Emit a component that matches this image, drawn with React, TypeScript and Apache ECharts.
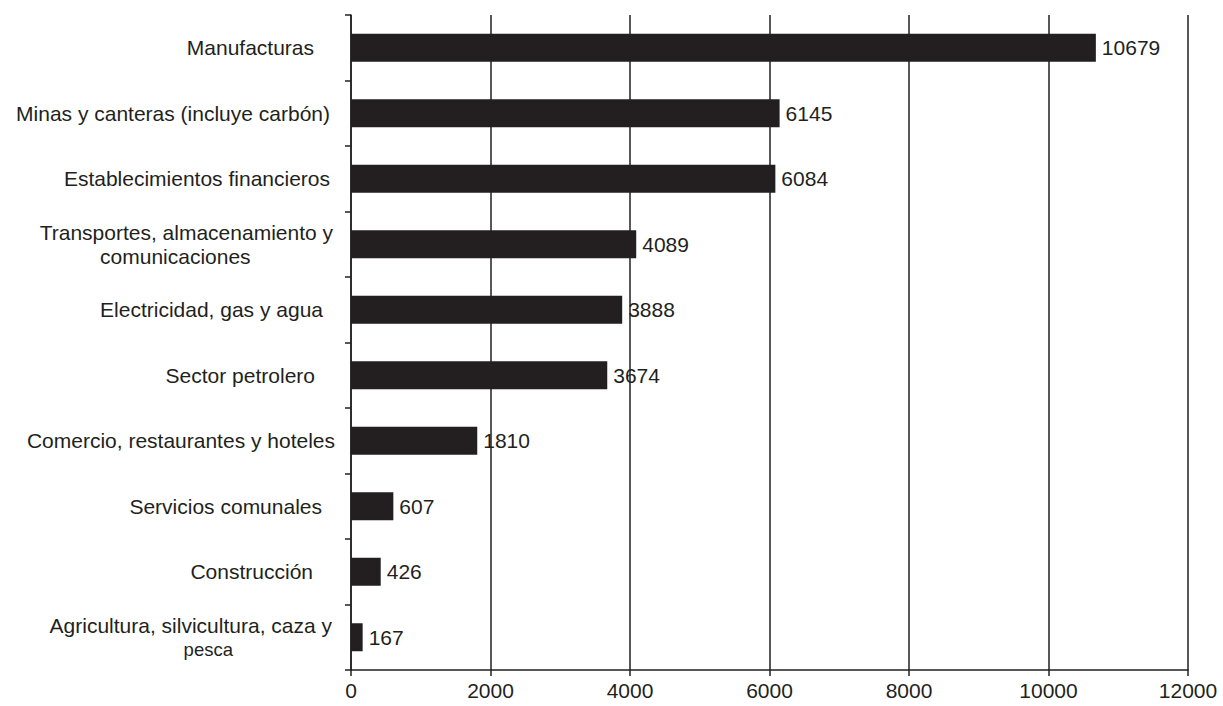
import React, { useEffect, useRef } from "react";
import * as echarts from "echarts";

const categories: string[] = [
  "Manufacturas",
  "Minas y canteras (incluye carbón)",
  "Establecimientos financieros",
  "Transportes, almacenamiento y\ncomunicaciones",
  "Electricidad, gas y agua",
  "Sector petrolero",
  "Comercio, restaurantes y hoteles",
  "Servicios comunales",
  "Construcción",
  "Agricultura, silvicultura, caza y\npesca",
];

const values: number[] = [10679, 6145, 6084, 4089, 3888, 3674, 1810, 607, 426, 167];

const xTicks = { min: 0, max: 12000, interval: 2000 };

// style: right-side gap of each category label (px), mimics trailing spaces
const labelGaps: number[] = [21, 5, 5, 2, 12, 20, 0, 13, 22, 3];

const INK = "#231f20";
const FONT = "'Liberation Sans', Arial, sans-serif";

export default function App() {
  const ref = useRef<HTMLDivElement>(null);

  useEffect(() => {
    if (!ref.current) return;
    const chart = echarts.init(ref.current, undefined, { renderer: "svg" });

    const rich: Record<string, any> = {
      l: { fontSize: 21, fontFamily: FONT, color: INK, align: "center", lineHeight: 24 },
      c: {
        fontSize: 21,
        fontFamily: FONT,
        color: INK,
        align: "center",
        lineHeight: 24,
        padding: [0, 24, 0, 0],
      },
      s: {
        fontSize: 18.5,
        fontFamily: FONT,
        color: INK,
        align: "center",
        lineHeight: 24,
        padding: [0, 0, 0, 32],
      },
    };
    labelGaps.forEach((g, i) => {
      rich["g" + i] = { width: g, align: "right", lineHeight: 24 };
    });

    const formatLabel = (name: string) => {
      const idx = categories.indexOf(name);
      const lines = name.split("\n");
      return lines
        .map((ln, li) => {
          let style = "l";
          if (li === 1) style = idx === categories.length - 1 ? "s" : "c";
          const tok = `{${style}|${ln}}`;
          return li === 0 ? `${tok}{g${idx}|}` : tok;
        })
        .join("\n");
    };

    chart.setOption({
      animation: false,
      backgroundColor: "#ffffff",
      textStyle: { fontFamily: FONT, color: INK },
      grid: { left: 351, right: 35, top: 15, bottom: 36, containLabel: false },
      xAxis: {
        type: "value",
        min: xTicks.min,
        max: xTicks.max,
        interval: xTicks.interval,
        axisLine: { show: true, lineStyle: { color: INK, width: 1.5 } },
        axisTick: { show: true, length: 6, lineStyle: { color: INK, width: 1.5 } },
        axisLabel: {
          fontSize: 21,
          fontFamily: FONT,
          color: INK,
          margin: 10,
          formatter: (v: number) => String(v),
        },
        splitLine: { show: true, lineStyle: { color: INK, width: 1.5 } },
      },
      yAxis: {
        type: "category",
        data: categories,
        inverse: true,
        axisLine: { show: true, lineStyle: { color: INK, width: 1.5 } },
        axisTick: { show: true, length: 6, lineStyle: { color: INK, width: 1.5 } },
        axisLabel: {
          margin: 16,
          interval: 0,
          formatter: formatLabel,
          rich,
        },
        splitLine: { show: false },
      },
      series: [
        {
          type: "bar",
          data: values,
          barWidth: 28,
          itemStyle: { color: INK },
          label: {
            show: true,
            position: "right",
            distance: 6,
            fontSize: 21,
            fontFamily: FONT,
            color: INK,
          },
        },
      ],
    });

    return () => chart.dispose();
  }, []);

  return (
    <div
      ref={ref}
      style={{ position: "fixed", left: 0, top: 0, width: 1223, height: 706, background: "#fff" }}
    />
  );
}
